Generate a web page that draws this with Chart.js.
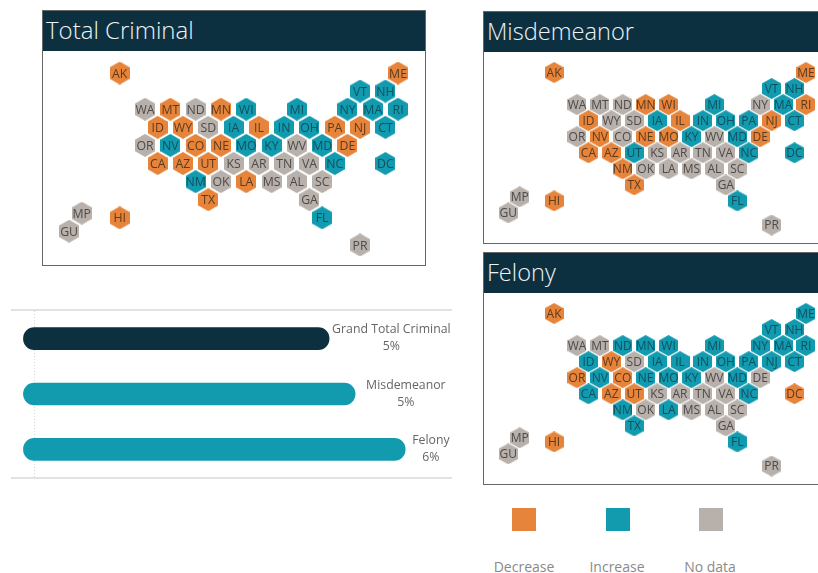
<!DOCTYPE html>
<html>
<head>
<meta charset="utf-8">
<script src="https://cdn.jsdelivr.net/npm/chart.js@4"></script>
<style>
	html, body { margin: 0; padding: 0; background: #fff; overflow: hidden; }
	body { width: 818px; height: 573px; position: relative; font-family: 'Open Sans', sans-serif; }
	.panel { position: absolute; box-sizing: border-box; border: 1px solid #666; background: #fff; }
	.header { position: absolute; left: 0; top: 0; right: 0; height: 40px; background: #0d3040; color: #eef3f5; font-size: 24px; line-height: 38px; padding-left: 3px; font-weight: 300; }
	.mapBox { position: absolute; left: 0; }
	#barBox { position: absolute; left: 11px; top: 309px; width: 441px; height: 170px; box-sizing: border-box; border-top: 2px solid #e2e2e2; border-bottom: 2px solid #e2e2e2; }
	.swatch { position: absolute; top: 508px; width: 24px; height: 23px; }
	.legendText { position: absolute; top: 557px; width: 80px; text-align: center; font-size: 14px; color: #8a8a8a; }
</style>
</head>
<body>
<div class="panel" style="left:42px;top:10px;width:384px;height:256px">
	<div class="header">Total Criminal</div>
	<div class="mapBox" style="top:41px;width:382px;height:214px"><canvas id="totalMap"></canvas></div>
</div>
<div class="panel" style="left:483px;top:11px;width:340px;height:233px">
	<div class="header" style="font-size:23.6px">Misdemeanor</div>
	<div class="mapBox" style="top:40px;width:335px;height:191px"><canvas id="misdemeanorMap"></canvas></div>
</div>
<div class="panel" style="left:483px;top:252px;width:340px;height:233px">
	<div class="header" style="font-size:23.6px">Felony</div>
	<div class="mapBox" style="top:40px;width:335px;height:191px"><canvas id="felonyMap"></canvas></div>
</div>
<div id="barBox"><canvas id="barChart"></canvas></div>
<div id="legend"></div>

<script>
// Tile grid: half-column and row of each state
const states = ['AK','ME','VT','NH','WA','MT','ND','MN','WI','MI','NY','MA','RI','ID','WY','SD','IA','IL','IN','OH','PA','NJ','CT','OR','NV','CO','NE','MO','KY','WV','MD','DE','CA','AZ','UT','KS','AR','TN','VA','NC','DC','NM','OK','LA','MS','AL','SC','TX','GA','HI','FL','PR','MP','GU'];
const stateCols = [-2,20,17,19,0,2,4,6,8,12,16,18,20,1,3,5,7,9,11,13,15,17,19,0,2,4,6,8,10,12,14,16,1,3,5,7,9,11,13,15,19,4,6,8,10,12,14,5,13,-2,14,17,-5,-6];
const stateRows = [0,0,1,1,2,2,2,2,2,2,2,2,2,3,3,3,3,3,3,3,3,3,3,4,4,4,4,4,4,4,4,4,5,5,5,5,5,5,5,5,5,6,6,6,6,6,6,7,7,8,8,9.5,7.74,8.74];

// D = decrease, I = increase, N = no data (same order as states)
const totalStatus = ['D','D','I','I','N','D','N','D','I','I','I','I','I','D','D','N','I','D','I','I','D','D','I','N','I','D','D','I','I','N','I','D','D','D','D','N','N','N','N','I','I','I','N','D','N','N','N','D','N','D','I','N','N','N'];
const misdemeanorStatus = ['D','D','I','I','N','N','N','D','D','I','N','I','D','D','N','N','I','D','I','I','I','D','I','N','D','N','D','D','I','N','I','D','D','D','I','N','N','N','N','I','I','D','N','N','N','N','N','D','N','D','I','N','N','N'];
const felonyStatus = ['D','I','I','I','N','N','I','I','I','I','I','I','I','I','D','N','I','I','I','I','I','I','I','D','I','D','I','I','I','N','I','N','I','D','D','N','N','N','N','I','D','I','N','I','N','N','N','I','N','D','I','N','N','N'];

const barCategories = ['Grand Total Criminal','Misdemeanor','Felony'];
const barValues = [4.53, 4.93, 5.7];
const barLabels = ['5%','5%','6%'];

const legendCategories = ['Decrease','Increase','No data'];

const statusColors = { D: '#e5843a', I: '#129aae', N: '#b8b0ab' };
const labelColors = { D: '#5e3a1e', I: '#0d5160', N: '#4d4a48' };

function makeHex(color, w, h) {
	const c = document.createElement('canvas');
	c.width = w;
	c.height = h;
	const g = c.getContext('2d');
	g.fillStyle = color;
	g.beginPath();
	g.moveTo(w / 2, 0);
	g.lineTo(w, h / 4);
	g.lineTo(w, h * 3 / 4);
	g.lineTo(w / 2, h);
	g.lineTo(0, h * 3 / 4);
	g.lineTo(0, h / 4);
	g.closePath();
	g.fill();
	return c;
}

const hexLabels = {
	id: 'hexLabels',
	afterDatasetsDraw(chart, args, opts) {
		const g = chart.ctx;
		const points = chart.getDatasetMeta(0).data;
		g.save();
		g.font = opts.size + 'px "Open Sans"';
		g.textAlign = 'center';
		g.textBaseline = 'middle';
		points.forEach((pt, i) => {
			g.fillStyle = labelColors[opts.status[i]];
			g.fillText(states[i], pt.x, pt.y + 1);
		});
		g.restore();
	}
};

function drawMap(id, status, xRange, yRange, hexW, hexH, fontSize) {
	const hexes = {};
	Object.keys(statusColors).forEach(k => { hexes[k] = makeHex(statusColors[k], hexW, hexH); });
	new Chart(document.getElementById(id), {
		type: 'scatter',
		data: {
			datasets: [{
				data: states.map((s, i) => ({ x: stateCols[i], y: stateRows[i] })),
				pointStyle: status.map(s => hexes[s])
			}]
		},
		options: {
			responsive: true,
			maintainAspectRatio: false,
			animation: false,
			layout: { padding: 0, autoPadding: false },
			plugins: {
				legend: { display: false },
				tooltip: { enabled: false },
				hexLabels: { status: status, size: fontSize }
			},
			scales: {
				x: { display: false, min: xRange[0], max: xRange[1] },
				y: { display: false, min: yRange[0], max: yRange[1], reverse: true }
			}
		},
		plugins: [hexLabels]
	});
}

drawMap('totalMap', totalStatus, [-8.063, 22.13], [-1.16, 10.66], 20, 23, 12.3);
drawMap('misdemeanorMap', misdemeanorStatus, [-8.12, 21.14], [-1.277, 10.62], 19, 21, 12);
drawMap('felonyMap', felonyStatus, [-8.12, 21.14], [-1.277, 10.62], 19, 21, 12);

// Labels sit to the right of each pill, two centred lines
const barEndLabels = {
	id: 'barEndLabels',
	afterDatasetsDraw(chart) {
		const g = chart.ctx;
		const gaps = [3, 11, 7];
		g.save();
		g.font = '500 12.3px "Open Sans"';
		g.fillStyle = '#666666';
		g.textAlign = 'center';
		g.textBaseline = 'middle';
		chart.getDatasetMeta(0).data.forEach((bar, i) => {
			const w = g.measureText(barCategories[i]).width;
			const cx = bar.x + gaps[i] + w / 2;
			g.fillText(barCategories[i], cx, bar.y - 9);
			g.fillText(barLabels[i], cx, bar.y + 8);
		});
		g.restore();
	}
};

new Chart(document.getElementById('barChart'), {
	type: 'bar',
	data: {
		labels: barCategories,
		datasets: [{
			data: barValues,
			base: -0.17,
			backgroundColor: ['#0d3040', '#129aae', '#129aae'],
			barThickness: 22,
			borderRadius: 11,
			borderSkipped: false
		}]
	},
	options: {
		indexAxis: 'y',
		responsive: true,
		maintainAspectRatio: false,
		animation: false,
		layout: { padding: 0, autoPadding: false },
		plugins: { legend: { display: false }, tooltip: { enabled: false } },
		scales: {
			x: {
				min: -0.3615,
				max: 6.42,
				afterBuildTicks: scale => { scale.ticks = [{ value: 0 }]; },
				ticks: { display: false },
				grid: { color: '#d6d6d6', drawTicks: false },
				border: { display: false, dash: [1, 2] }
			},
			y: { display: false }
		}
	},
	plugins: [barEndLabels]
});

const legend = document.getElementById('legend');
const swatchLeft = [512, 606, 699];
const legendTextLeft = [484, 577, 670];
const legendKeys = ['D', 'I', 'N'];
legendCategories.forEach((name, i) => {
	const box = document.createElement('div');
	box.className = 'swatch';
	box.style.left = swatchLeft[i] + 'px';
	box.style.background = statusColors[legendKeys[i]];
	legend.appendChild(box);
	const text = document.createElement('div');
	text.className = 'legendText';
	text.style.left = legendTextLeft[i] + 'px';
	text.textContent = name;
	legend.appendChild(text);
});
</script>
</body>
</html>
